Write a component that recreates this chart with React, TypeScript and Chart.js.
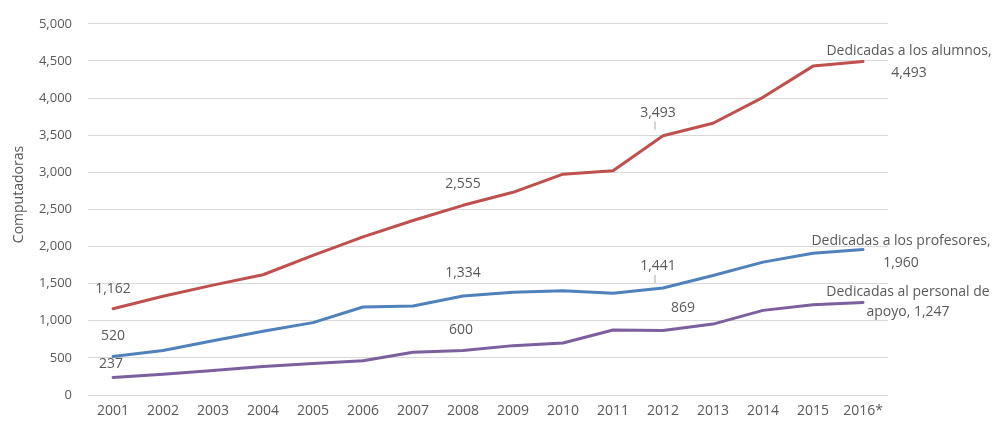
import React, { useEffect, useRef } from "react";
import { Chart, registerables } from "chart.js";

Chart.register(...registerables);

const years = ["2001", "2002", "2003", "2004", "2005", "2006", "2007", "2008", "2009", "2010", "2011", "2012", "2013", "2014", "2015", "2016*"];

const alumnos = [1162, 1330, 1480, 1620, 1880, 2130, 2350, 2555, 2730, 2975, 3020, 3493, 3660, 4010, 4430, 4493];
const profesores = [520, 600, 730, 860, 975, 1185, 1200, 1334, 1385, 1405, 1370, 1441, 1610, 1790, 1910, 1960];
const apoyo = [237, 280, 330, 385, 425, 460, 575, 600, 665, 700, 875, 869, 955, 1140, 1215, 1247];

const seriesNames = ["Dedicadas a los alumnos", "Dedicadas a los profesores", "Dedicadas al personal de apoyo"];
const yTicks = [0, 500, 1000, 1500, 2000, 2500, 3000, 3500, 4000, 4500, 5000];
const yTitle = "Computadoras";

const fmt = (v: number) => v.toLocaleString("en-US");

const FONT = "'Open Sans', 'Liberation Sans', sans-serif";
const TXT = "#595959";

// label placements: [dataset, index, dx, dy, leader]
const pointLabels: [number, number, number, number, boolean][] = [
  [0, 0, 0, -20, false],
  [1, 0, 0, -20, false],
  [2, 0, -2, -13, false],
  [0, 7, 0, -21, false],
  [1, 7, 0, -23, false],
  [2, 7, -2, -20, false],
  [0, 11, -5, -23, true],
  [1, 11, -5, -22, true],
  [2, 11, 20, -22, false],
];

// end labels: [dataset, dx, dy1, dy2, line1, line2]
const endLabels: [number, number, number, number, string, string][] = [
  [0, 46, -10, 12, "Dedicadas a los alumnos,", fmt(alumnos[15])],
  [1, 38, -8, 14, "Dedicadas a los profesores,", fmt(profesores[15])],
  [2, 45, -10, 10, "Dedicadas al personal de", "apoyo, " + fmt(apoyo[15])],
];

const labelPlugin = {
  id: "labelPlugin",
  afterDatasetsDraw(chart: any) {
    const ctx = chart.ctx;
    ctx.save();
    ctx.font = `14px ${FONT}`;
    ctx.fillStyle = TXT;
    ctx.textAlign = "center";
    ctx.textBaseline = "middle";
    for (const [d, i, dx, dy, leader] of pointLabels) {
      const pt = chart.getDatasetMeta(d).data[i];
      const v = chart.data.datasets[d].data[i];
      const x = pt.x + dx;
      const y = pt.y + dy;
      ctx.fillText(fmt(v), x, y);
      if (leader) {
        ctx.strokeStyle = "#a6a6a6";
        ctx.lineWidth = 1;
        ctx.beginPath();
        ctx.moveTo(x - 3, y + 9);
        ctx.lineTo(x - 3, y + 17);
        ctx.stroke();
      }
    }
    for (const [d, dx, dy1, dy2, l1, l2] of endLabels) {
      const meta = chart.getDatasetMeta(d);
      const pt = meta.data[meta.data.length - 1];
      ctx.fillText(l1, pt.x + dx, pt.y + dy1);
      ctx.fillText(l2, pt.x + dx, pt.y + dy2);
    }
    // y-axis title
    const ya = chart.scales.y;
    ctx.save();
    ctx.translate(19, ya.getPixelForValue(2700));
    ctx.rotate(-Math.PI / 2);
    ctx.fillText(yTitle, 0, 0);
    ctx.restore();
    ctx.restore();
  },
};

export default function App() {
  const ref = useRef<HTMLCanvasElement>(null);
  useEffect(() => {
    document.body.style.margin = "0";
    const chart = new Chart(ref.current!, {
      type: "line",
      data: {
        labels: years,
        datasets: [
          { label: seriesNames[0], data: alumnos, borderColor: "#C0504D", backgroundColor: "#C0504D" },
          { label: seriesNames[1], data: profesores, borderColor: "#4F81BD", backgroundColor: "#4F81BD" },
          { label: seriesNames[2], data: apoyo, borderColor: "#7D5FA0", backgroundColor: "#7D5FA0" },
        ],
      },
      options: {
        animation: false,
        responsive: false,
        maintainAspectRatio: false,
        elements: {
          line: { borderWidth: 3, tension: 0, borderCapStyle: "round", borderJoinStyle: "round" },
          point: { radius: 0, hoverRadius: 0 },
        },
        layout: { padding: { top: 20, right: 112, bottom: 0, left: 0 } },
        plugins: { legend: { display: false }, tooltip: { enabled: false } },
        scales: {
          x: {
            offset: true,
            grid: { display: false, drawTicks: false },
            border: { display: false },
            ticks: { color: TXT, font: { family: FONT, size: 14 }, padding: 8, maxRotation: 0, autoSkip: false },
            afterFit: (s: any) => { s.height = 32; },
          },
          y: {
            min: 0,
            max: 5000,
            afterBuildTicks: (s: any) => { s.ticks = yTicks.map((v) => ({ value: v })); },
            grid: { color: "#D9D9D9", lineWidth: 1, drawTicks: false },
            border: { display: false },
            ticks: { color: TXT, font: { family: FONT, size: 13 }, padding: 16, callback: (v: any) => fmt(Number(v)) },
            title: { display: false, text: yTitle },
            afterFit: (s: any) => { s.width = 88; },
          },
        },
      },
      plugins: [labelPlugin],
    });
    return () => chart.destroy();
  }, []);
  return (
    <div style={{ width: 1000, height: 427, background: "#fff" }}>
      <canvas ref={ref} width={1000} height={427} style={{ display: "block" }} />
    </div>
  );
}
